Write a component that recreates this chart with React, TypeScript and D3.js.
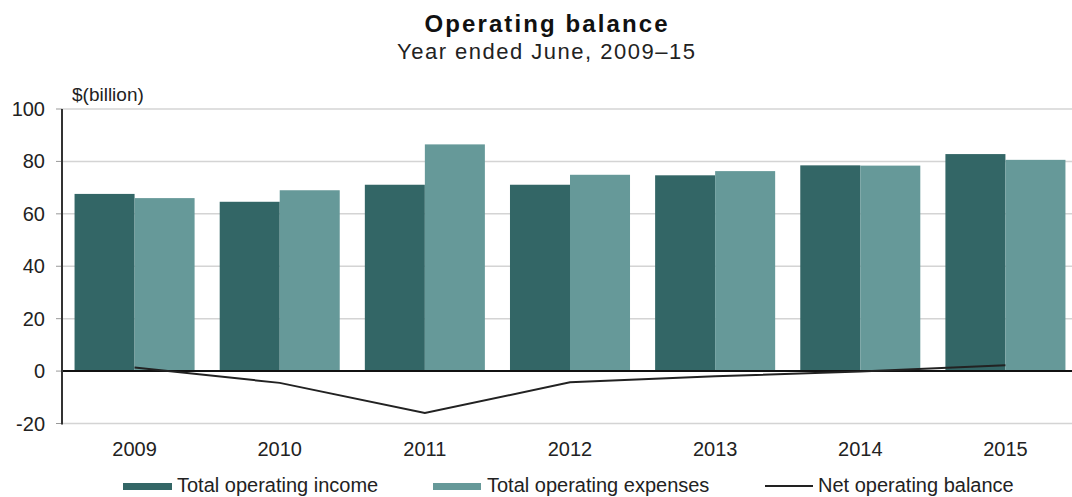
import React from "react";
import * as d3 from "d3";

const years = ["2009", "2010", "2011", "2012", "2013", "2014", "2015"];
const incomeValues = [67.6, 64.6, 71.1, 71.1, 74.7, 78.5, 82.8];
const expenseValues = [66.0, 69.0, 86.5, 74.9, 76.3, 78.4, 80.6];
const netBalance = [1.4, -4.5, -16.0, -4.3, -2.0, -0.2, 2.2];
const yTicks = [-20, 0, 20, 40, 60, 80, 100];
const seriesNames = ["Total operating income", "Total operating expenses", "Net operating balance"];

const W = 1072;
const H = 497;
const INCOME = "#336666";
const EXPENSE = "#669999";
const FONT = "Liberation Sans, Arial, sans-serif";

export default function App() {
  const left = 62;
  const right = 1078;
  const top = 109;
  const bottom = 423.5;

  const x = d3.scaleBand<string>().domain(years).range([left, right]).paddingInner(0.173).paddingOuter(0.0865);
  const sub = d3.scaleBand<string>().domain(["inc", "exp"]).range([0, x.bandwidth()]).padding(0);
  const y = d3.scaleLinear().domain([-20, 100]).range([bottom, top]);

  const lineGen = d3
    .line<number>()
    .x((_, i) => (x(years[i]) as number) + x.bandwidth() / 2)
    .y((d) => y(d));

  return (
    <svg
      width={W}
      height={H}
      style={{ position: "absolute", left: 0, top: 0, background: "#fff", overflow: "hidden" }}
      fontFamily={FONT}
    >
      <rect x={0} y={0} width={W} height={H} fill="#fff" />
      {/* Title */}
      <text x={546} y={32} textAnchor="middle" fontSize={24} fontWeight="bold" fill="#111" textLength={243} lengthAdjust="spacing">
        Operating balance
      </text>
      <text x={546} y={59} textAnchor="middle" fontSize={22} fill="#222" textLength={298} lengthAdjust="spacing">
        Year ended June, 2009–15
      </text>
      <text x={72} y={101} fontSize={19} fill="#222">
        $(billion)
      </text>

      {/* gridlines */}
      {yTicks.map((t) => (
        <g key={t}>
          {t !== 0 && <line x1={left} x2={right} y1={y(t)} y2={y(t)} stroke="#d4d4d4" strokeWidth={1.5} />}
          <line x1={left - 6} x2={left} y1={y(t)} y2={y(t)} stroke="#999" strokeWidth={1} />
          <text x={45} y={y(t) + 7} textAnchor="end" fontSize={20} fill="#222">
            {t}
          </text>
        </g>
      ))}

      {/* bars */}
      {years.map((yr, i) => (
        <g key={yr}>
          <rect
            x={(x(yr) as number) + (sub("inc") as number)}
            y={y(incomeValues[i])}
            width={sub.bandwidth()}
            height={y(0) - y(incomeValues[i])}
            fill={INCOME}
          />
          <rect
            x={(x(yr) as number) + (sub("exp") as number)}
            y={y(expenseValues[i])}
            width={sub.bandwidth()}
            height={y(0) - y(expenseValues[i])}
            fill={EXPENSE}
          />
          <text x={(x(yr) as number) + x.bandwidth() / 2} y={456} textAnchor="middle" fontSize={20} fill="#222">
            {yr}
          </text>
        </g>
      ))}

      {/* zero line and axis */}
      <line x1={left} x2={right} y1={y(0)} y2={y(0)} stroke="#111" strokeWidth={2} />
      <line x1={left} x2={left} y1={top} y2={bottom + 1} stroke="#333" strokeWidth={2} />

      {/* net line */}
      <path d={lineGen(netBalance) || ""} fill="none" stroke="#222" strokeWidth={2} />

      {/* legend */}
      <rect x={123} y={483} width={49} height={7} fill={INCOME} />
      <text x={177} y={492} fontSize={20} fill="#222">
        {seriesNames[0]}
      </text>
      <rect x={433} y={483} width={48} height={7} fill={EXPENSE} />
      <text x={487} y={492} fontSize={20} fill="#222">
        {seriesNames[1]}
      </text>
      <line x1={765} x2={813} y1={486} y2={486} stroke="#222" strokeWidth={2} />
      <text x={818} y={492} fontSize={20} fill="#222">
        {seriesNames[2]}
      </text>
    </svg>
  );
}
